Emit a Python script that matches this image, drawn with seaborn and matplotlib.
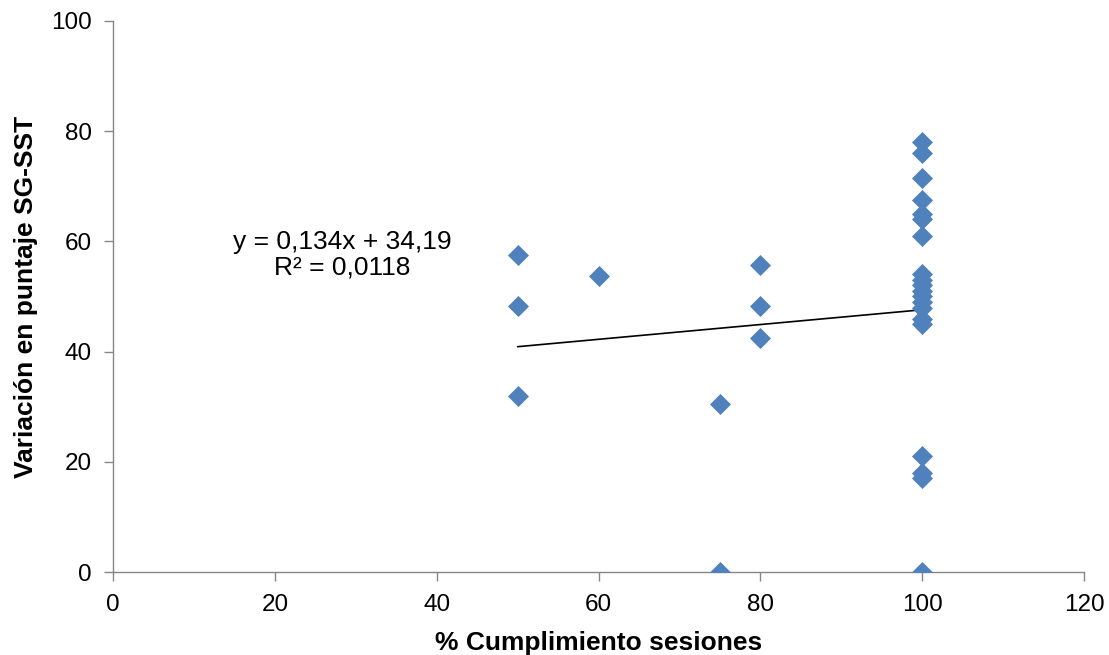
import numpy as np
import pandas as pd
import matplotlib
matplotlib.use('Agg')
import matplotlib.pyplot as plt
import seaborn as sns

# data
cumplimiento = [50, 50, 50, 60, 75, 75, 80, 80, 80,
                100, 100, 100, 100, 100, 100, 100,
                100, 100, 100, 100, 100, 100, 100, 100, 100,
                100, 100, 100, 100]
variacion = [57.5, 48.3, 32.0, 53.8, 30.5, 0.0, 55.8, 48.3, 42.5,
             78.0, 76.0, 71.5, 67.5, 65.0, 64.0, 61.0,
             54.0, 53.0, 52.0, 51.0, 50.0, 49.0, 48.0, 46.0, 45.0,
             21.0, 18.0, 17.0, 0.0]
# linear trend as printed on the chart
pendiente = 0.134
intercepto = 34.19
trend_x = [50, 100]

df = pd.DataFrame({'x': cumplimiento, 'y': variacion})
trend = pd.DataFrame({'x': trend_x, 'y': [pendiente * v + intercepto for v in trend_x]})

sns.set_style('white')
plt.rcParams['font.family'] = ['Liberation Sans', 'DejaVu Sans']
plt.rcParams['text.color'] = 'black'
plt.rcParams['axes.labelcolor'] = 'black'
plt.rcParams['xtick.color'] = 'black'
plt.rcParams['ytick.color'] = 'black'

fig = plt.figure(figsize=(11.09, 6.55), dpi=100)
ax = fig.add_axes([0.102, 0.1267, 0.8755, 0.8413])

sns.scatterplot(data=df, x='x', y='y', marker='D', s=115, color='#4F81BD',
                edgecolor='#4F81BD', linewidth=0, ax=ax, zorder=3)
sns.lineplot(data=trend, x='x', y='y', color='black', linewidth=1.2, ax=ax, zorder=2)

ax.set_xlim(0, 120)
ax.set_ylim(0, 100)
ax.set_xticks(range(0, 121, 20))
ax.set_yticks(range(0, 101, 20))
ax.tick_params(axis='both', labelsize=17.5, direction='out', length=6.5, width=1,
               color='#868686', labelcolor='black', left=True, bottom=True)
ax.tick_params(axis='x', pad=9)
ax.tick_params(axis='y', pad=9)

for side in ['top', 'right']:
    ax.spines[side].set_visible(False)
for side in ['left', 'bottom']:
    ax.spines[side].set_color('#868686')
    ax.spines[side].set_linewidth(1)

ax.set_xlabel('% Cumplimiento sesiones', fontsize=19, fontweight='bold', labelpad=11)
ax.set_ylabel('Variación en puntaje SG-SST', fontsize=19, fontweight='bold', labelpad=9)

ax.text(28.3, 57.6, 'y = 0,134x + 34,19\nR² = 0,0118', fontsize=19,
        ha='center', va='center', linespacing=1.05)

plt.savefig('out.png', dpi=100)
